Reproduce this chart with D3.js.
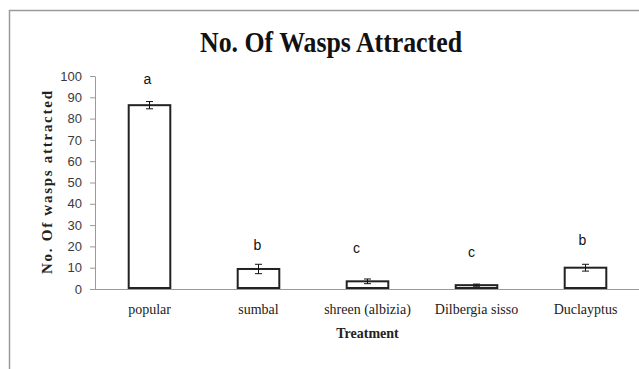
<!DOCTYPE html>
<html>
<head>
<meta charset="utf-8">
<script src="https://cdn.jsdelivr.net/npm/d3@7"></script>
<style>
  html, body { margin: 0; padding: 0; background: #fff; }
  svg { display: block; }
</style>
</head>
<body>
<svg id="chart" width="639" height="369"></svg>
<script>
// ---- data ----
const categories = ["popular", "sumbal", "shreen (albizia)", "Dilbergia sisso", "Duclayptus"];
const values = [86.3, 9.4, 3.6, 1.8, 10.0];
const errors = [1.7, 2.2, 1.1, 0.5, 1.6];
const letters = ["a", "b", "c", "c", "b"];
const yTicks = [0, 10, 20, 30, 40, 50, 60, 70, 80, 90, 100];

// ---- layout (not data) ----
const W = 639, H = 369;
const plot = { left: 95, right: 640, top: 76, bottom: 289 };
// manual nudges of the significance letters (px) relative to the error bar top
const letterDx = [-2, -1, -11, -5, -3];
const letterGap = [18, 14, 26, 27, 19];

const svg = d3.select("#chart");

// frame
svg.append("path")
  .attr("d", `M9.5,${H} V10.5 H${W}`)
  .attr("fill", "none").attr("stroke", "#9a9a9a").attr("stroke-width", 1.5);

const x = d3.scaleBand().domain(categories).range([plot.left, plot.right]).paddingInner(0.6).paddingOuter(0.3);
const y = d3.scaleLinear().domain([0, 100]).range([plot.bottom, plot.top]);

// title
svg.append("text")
  .attr("x", 331).attr("y", 52)
  .attr("text-anchor", "middle")
  .attr("font-family", "'Liberation Serif', 'Times New Roman', serif")
  .attr("font-weight", "bold").attr("font-size", 29)
  .attr("textLength", 262).attr("lengthAdjust", "spacingAndGlyphs")
  .attr("fill", "#111")
  .text("No. Of Wasps Attracted");

// y axis
const yAxis = d3.axisLeft(y).tickValues(yTicks).tickSize(5).tickSizeOuter(0).tickPadding(8);
const gy = svg.append("g").attr("transform", `translate(${plot.left},0)`).call(yAxis);
gy.select(".domain").attr("stroke", "#9a9a9a");
gy.selectAll(".tick line").attr("stroke", "#9a9a9a");
gy.selectAll(".tick text")
  .attr("font-family", "'Liberation Sans', Arial, sans-serif")
  .attr("font-size", 13).attr("fill", "#3a3a3a");

// x axis
const xAxis = d3.axisBottom(x).tickSize(0).tickSizeOuter(0).tickPadding(15);
const gx = svg.append("g").attr("transform", `translate(0,${plot.bottom})`).call(xAxis);
gx.select(".domain").attr("stroke", "#9a9a9a").attr("d", `M${plot.left},0.5H${W}`);
gx.selectAll(".tick text")
  .attr("font-family", "'Liberation Serif', 'Times New Roman', serif")
  .attr("font-size", 14).attr("fill", "#222");

// bars
const bw = x.bandwidth();
svg.append("g").selectAll("rect").data(categories).join("rect")
  .attr("x", d => x(d) + 1)
  .attr("y", (d, i) => y(values[i]))
  .attr("width", bw - 2)
  .attr("height", (d, i) => y(0) - y(values[i]) - 1)
  .attr("fill", "#fff").attr("stroke", "#222").attr("stroke-width", 2);

// error bars
const eg = svg.append("g").attr("stroke", "#111").attr("stroke-width", 1);
categories.forEach((c, i) => {
  const cx = x(c) + bw / 2;
  const y1 = y(values[i] + errors[i]);
  const y2 = y(values[i] - errors[i]);
  eg.append("line").attr("x1", cx).attr("x2", cx).attr("y1", y1).attr("y2", y2);
  eg.append("line").attr("x1", cx - 3.5).attr("x2", cx + 3.5).attr("y1", y1).attr("y2", y1);
  eg.append("line").attr("x1", cx - 3.5).attr("x2", cx + 3.5).attr("y1", y2).attr("y2", y2);
});

// significance letters
svg.append("g").selectAll("text").data(categories).join("text")
  .attr("x", (d, i) => x(d) + bw / 2 + letterDx[i])
  .attr("y", (d, i) => y(values[i] + errors[i]) - letterGap[i])
  .attr("text-anchor", "middle")
  .attr("font-family", "'Liberation Sans', Arial, sans-serif")
  .attr("font-size", 14).attr("fill", "#111")
  .text((d, i) => letters[i]);

// axis titles
svg.append("text")
  .attr("x", (plot.left + plot.right) / 2).attr("y", 338)
  .attr("text-anchor", "middle")
  .attr("font-family", "'Liberation Serif', 'Times New Roman', serif")
  .attr("font-weight", "bold").attr("font-size", 14).attr("fill", "#222")
  .text("Treatment");

svg.append("text")
  .attr("transform", `translate(52,${(plot.top + plot.bottom) / 2}) rotate(-90)`)
  .attr("text-anchor", "middle")
  .attr("font-family", "'Liberation Serif', 'Times New Roman', serif")
  .attr("font-weight", "bold").attr("font-size", 15).attr("fill", "#222")
  .attr("textLength", 183).attr("lengthAdjust", "spacing")
  .text("No. Of wasps attracted");
</script>
</body>
</html>
